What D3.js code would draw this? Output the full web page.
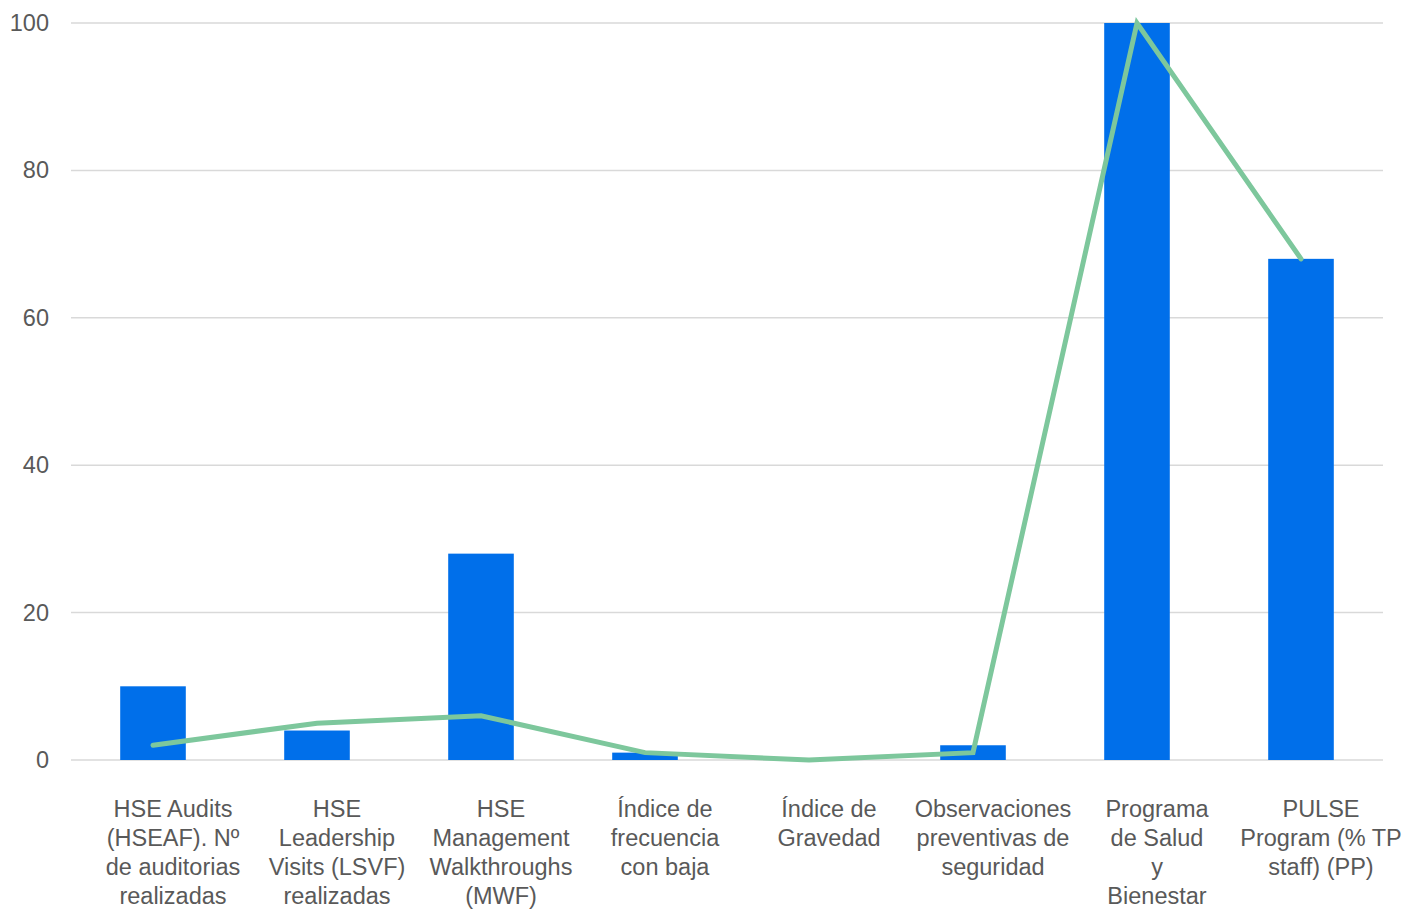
<!DOCTYPE html>
<html>
<head>
<meta charset="utf-8">
<script src="https://cdn.jsdelivr.net/npm/d3@7"></script>
<style>
  body { margin: 0; background: #fff; }
  text { font-family: Arial, "Liberation Sans", sans-serif; }
</style>
</head>
<body>
<div id="chart"></div>
<script>
// category labels, already split into lines the way the original wraps them
var categories = [
    ["HSE Audits", "(HSEAF). Nº", "de auditorias", "realizadas"],
    ["HSE", "Leadership", "Visits (LSVF)", "realizadas"],
    ["HSE", "Management", "Walkthroughs", "(MWF)"],
    ["Índice de", "frecuencia", "con baja"],
    ["Índice de", "Gravedad"],
    ["Observaciones", "preventivas de", "seguridad"],
    ["Programa", "de Salud", "y", "Bienestar"],
    ["PULSE", "Program (% TP", "staff) (PP)"]
];
var barValues = [10, 4, 28, 1, 0, 2, 100, 68];
var lineValues = [2, 5, 6, 1, 0, 1, 100, 68];
var yTicks = [0, 20, 40, 60, 80, 100];

var W = 1426, H = 910;
var margin = {top: 23, right: 43, bottom: 150, left: 71};
var width = W - margin.left - margin.right;
var height = H - margin.top - margin.bottom;

var svg = d3.select("#chart").append("svg")
    .attr("width", W)
    .attr("height", H);

var g = svg.append("g")
    .attr("transform", "translate(" + margin.left + "," + margin.top + ")");

var idx = d3.range(categories.length);

var x = d3.scaleBand()
    .domain(idx)
    .range([0, width])
    .paddingInner(0.6)
    .paddingOuter(0.3);

var y = d3.scaleLinear()
    .domain([0, 100])
    .range([height, 0]);

// gridlines
g.selectAll(".grid")
    .data(yTicks)
    .enter()
    .append("line")
    .attr("x1", 0)
    .attr("x2", width)
    .attr("y1", function(d) { return y(d); })
    .attr("y2", function(d) { return y(d); })
    .attr("stroke", "#d9d9d9")
    .attr("stroke-width", 1.5);

// y axis labels
var yAxis = g.append("g")
    .call(d3.axisLeft(y).tickValues(yTicks).tickSize(0).tickPadding(22));
yAxis.select(".domain").remove();
yAxis.selectAll("text")
    .style("font-size", "23.5px")
    .style("font-family", "Arial, 'Liberation Sans', sans-serif")
    .attr("fill", "#595959");

// bars
g.selectAll(".bar")
    .data(barValues)
    .enter()
    .append("rect")
    .attr("x", function(d, i) { return x(i); })
    .attr("y", function(d) { return y(d); })
    .attr("width", x.bandwidth())
    .attr("height", function(d) { return height - y(d); })
    .attr("fill", "#006fea");

// line
var line = d3.line()
    .x(function(d, i) { return x(i) + x.bandwidth() / 2; })
    .y(function(d) { return y(d); });

g.append("path")
    .datum(lineValues)
    .attr("d", line)
    .attr("fill", "none")
    .attr("stroke", "#7dc79c")
    .attr("stroke-width", 5)
    .attr("stroke-linecap", "round")
    .attr("stroke-linejoin", "miter");

// category labels (the original sits them a bit right of the bar,
// but keeps them inside the plot on the left)
var labelShift = 20;
var labels = g.selectAll(".cat")
    .data(categories)
    .enter()
    .append("text")
    .attr("text-anchor", "middle")
    .attr("fill", "#595959")
    .style("font-size", "23.5px");

labels.selectAll("tspan")
    .data(function(d) { return d; })
    .enter()
    .append("tspan")
    .attr("x", 0)
    .attr("dy", function(d, i) { return i === 0 ? 0 : 29; })
    .text(function(d) { return d; });

labels.attr("transform", function(d, i) {
    var maxW = 0;
    d3.select(this).selectAll("tspan").each(function() {
        maxW = Math.max(maxW, this.getComputedTextLength());
    });
    var cx = x(i) + x.bandwidth() / 2 + labelShift;
    cx = Math.max(cx, maxW / 2);
    return "translate(" + cx + "," + (height + 57) + ")";
});
</script>
</body>
</html>
